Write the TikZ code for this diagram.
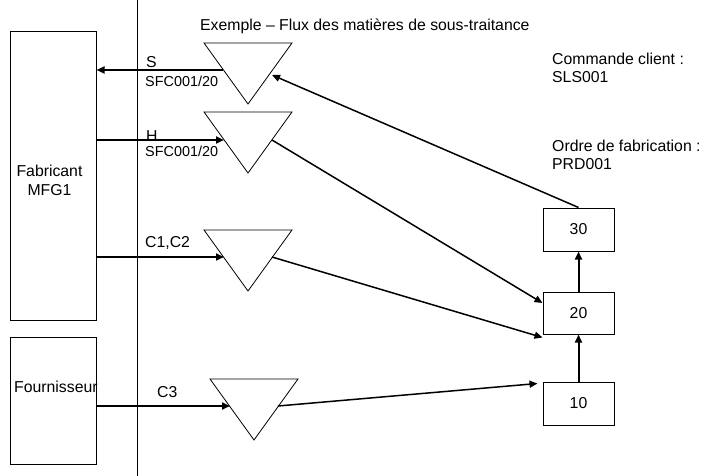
\documentclass[tikz,border=0pt]{standalone}
\usepackage{fontspec}
\setmainfont{Liberation Sans}
\usetikzlibrary{arrows.meta}
\begin{document}
\begin{tikzpicture}[x=1pt,y=-1pt,
  font=\fontsize{15.8}{18}\selectfont,
  box/.style={draw,line width=1pt,inner sep=0pt},
  txt/.style={anchor=base west,inner sep=0pt},
  code/.style={txt,font=\fontsize{14.4}{17}\selectfont},
  flow/.style={line width=2pt,-{Triangle[length=8pt,width=7pt]}},
  diag/.style={line width=1.5pt,-{Triangle[length=8pt,width=7pt]}},
  tri/.style={draw,line width=0.8pt}]
\useasboundingbox (0,0) rectangle (717,476);
\fill[white] (0,0) rectangle (717,476);
% separator
\draw[line width=1pt] (137,0) -- (137,476);
% left boxes
\node[box,minimum width=86pt,minimum height=288pt] (fab) at (53,176) {};
\node[inner sep=0pt,align=center] (fabt) at (49.5,180) {Fabricant\\[1pt]MFG1};
\node[box,minimum width=86pt,minimum height=127pt] (four) at (53,400.5) {};
\node[txt] (fourt) at (14,392) {Fournisseur};
% right boxes
\node[box,minimum width=71pt,minimum height=43pt] (b30) at (578.5,229.5) {30};
\node[box,minimum width=71pt,minimum height=42pt] (b20) at (578.5,313) {20};
\node[box,minimum width=71pt,minimum height=43pt] (b10) at (578.5,403.5) {10};
% triangles
\draw[tri] (204,43) -- (292,43) -- (248,104) -- cycle;
\draw[tri] (204,112) -- (292,112) -- (248,173) -- cycle;
\draw[tri] (204,230) -- (292,230) -- (248,291) -- cycle;
\draw[tri] (210,379) -- (298,379) -- (254,440) -- cycle;
\coordinate (t1l) at (223,70);
\coordinate (t1r) at (272,75);
\coordinate (t2l) at (224,140);
\coordinate (t2r) at (272,140);
\coordinate (t3l) at (224,257);
\coordinate (t3r) at (272,257);
\coordinate (t4l) at (230,406);
\coordinate (t4r) at (278,406);
% texts
\node[txt] (title) at (200,31) {Exemple – Flux des matières de sous-traitance};
\node[txt] (cc1) at (552,65) {Commande client :};
\node[txt] (cc2) at (552,83) {SLS001};
\node[txt] (of1) at (552,151) {Ordre de fabrication :};
\node[txt] (of2) at (552,169) {PRD001};
\node[txt] (ls) at (146,68) {S};
\node[code] (ls2) at (145,87) {SFC001/20};
\node[txt] (lh) at (146,141) {H};
\node[code] (lh2) at (145,157) {SFC001/20};
\node[txt] (lc) at (145,247) {C1,C2};
\node[txt] (lc3) at (157,397) {C3};
% horizontal flows
\draw[flow] (t1l) -- (t1l -| fab.east);
\draw[flow] (t2l -| fab.east) -- (t2l);
\draw[flow] (t3l -| fab.east) -- (t3l);
\draw[flow] (t4l -| four.east) -- (t4l);
% diagonal flows
\draw[diag] (b30.north) -- (t1r);
\draw[diag] (t2r) -- ([yshift=10pt]b20.west);
\draw[diag] (t3r) -- ([yshift=-3pt]b20.south west);
\draw[diag] (t4r) -- ([xshift=-5pt,yshift=-2pt]b10.north west);
% vertical flows
\draw[diag,line width=2pt] (b10.north) -- (b20.south);
\draw[diag,line width=2pt] (b20.north) -- (b30.south);
\end{tikzpicture}
\end{document}
